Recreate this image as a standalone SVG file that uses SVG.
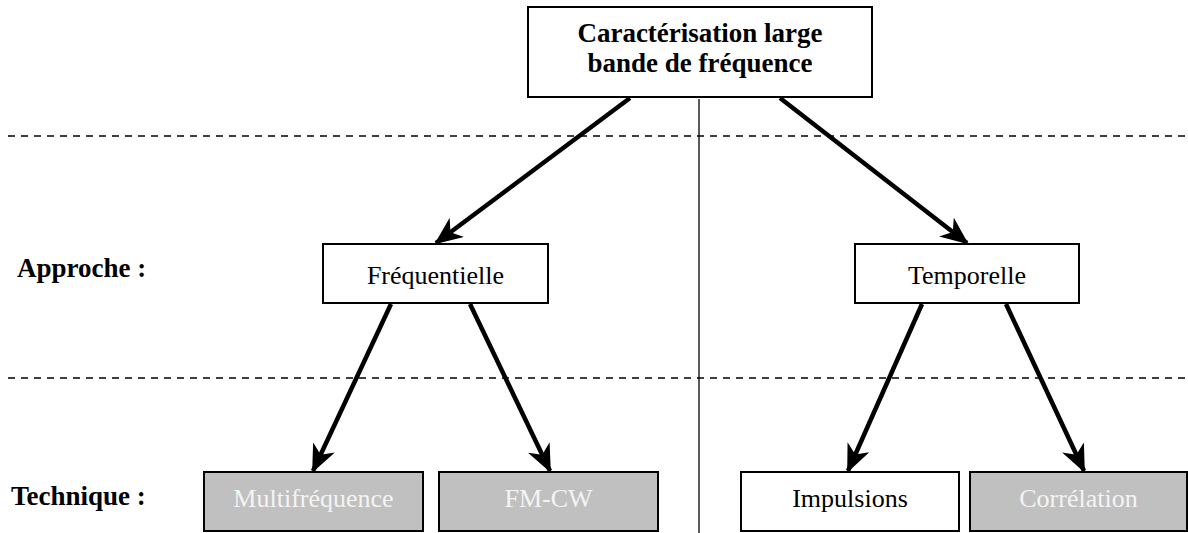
<svg xmlns="http://www.w3.org/2000/svg" width="1188" height="533" viewBox="0 0 1188 533">
<style>
.box{fill:#fff;stroke:#000;stroke-width:2}
.grey{fill:#c0c0c0;stroke:#000;stroke-width:2}
.t{font-family:"Liberation Serif",serif;font-size:26px;text-anchor:middle;fill:#000}
.tw{font-family:"Liberation Serif",serif;font-size:26px;text-anchor:middle;fill:#f4f4f4}
.b{font-family:"Liberation Serif",serif;font-size:27px;font-weight:bold;fill:#000}
.arr{stroke:#000;stroke-width:4.5;fill:none;marker-end:url(#ah)}
.dash{stroke:#000;stroke-width:1.5;stroke-dasharray:7,6}
</style>
<defs>
<marker id="ah" markerUnits="userSpaceOnUse" viewBox="0 0 28 24" refX="26" refY="12" markerWidth="28" markerHeight="24" orient="auto">
<path d="M0,0 L28,12 L0,24 L8,12 Z" fill="#000"/>
</marker>
</defs>
<g id="guides">
<line class="dash" x1="8" y1="136" x2="1188" y2="136"/>
<line class="dash" x1="8" y1="378" x2="1188" y2="378"/>
<line x1="699" y1="99" x2="699" y2="533" stroke="#000" stroke-width="1.3"/>
</g>
<g id="labels">
<text class="b" x="17" y="277">Approche :</text>
<text class="b" x="11" y="505">Technique :</text>
</g>
<g id="connectors">
<line class="arr" x1="630" y1="98" x2="436" y2="243"/>
<line class="arr" x1="780" y1="98" x2="967" y2="243"/>
<line class="arr" x1="391" y1="304" x2="313" y2="471"/>
<line class="arr" x1="470" y1="304" x2="550" y2="471"/>
<line class="arr" x1="922" y1="304" x2="848" y2="471"/>
<line class="arr" x1="1006" y1="304" x2="1084" y2="471"/>
</g>
<g id="root">
<rect class="box" x="528" y="7" width="344" height="90"/>
<text class="b" x="700" y="42" text-anchor="middle">Caractérisation large</text>
<text class="b" x="700" y="72" text-anchor="middle">bande de fréquence</text>
</g>
<g id="frequentielle">
<rect class="box" x="323" y="244" width="225" height="59"/>
<text class="t" x="435.5" y="284">Fréquentielle</text>
</g>
<g id="temporelle">
<rect class="box" x="855" y="244" width="224" height="59"/>
<text class="t" x="967" y="284">Temporelle</text>
</g>
<g id="multifrequence">
<rect class="grey" x="204" y="472" width="219" height="59"/>
<text class="tw" x="313.5" y="507">Multifréquence</text>
</g>
<g id="fmcw">
<rect class="grey" x="439" y="472" width="219" height="59"/>
<text class="tw" x="548.5" y="507">FM-CW</text>
</g>
<g id="impulsions">
<rect class="box" x="741" y="472" width="218" height="59"/>
<text class="t" x="850" y="507">Impulsions</text>
</g>
<g id="correlation">
<rect class="grey" x="970" y="472" width="217" height="59"/>
<text class="tw" x="1078.5" y="507">Corrélation</text>
</g>
</svg>
